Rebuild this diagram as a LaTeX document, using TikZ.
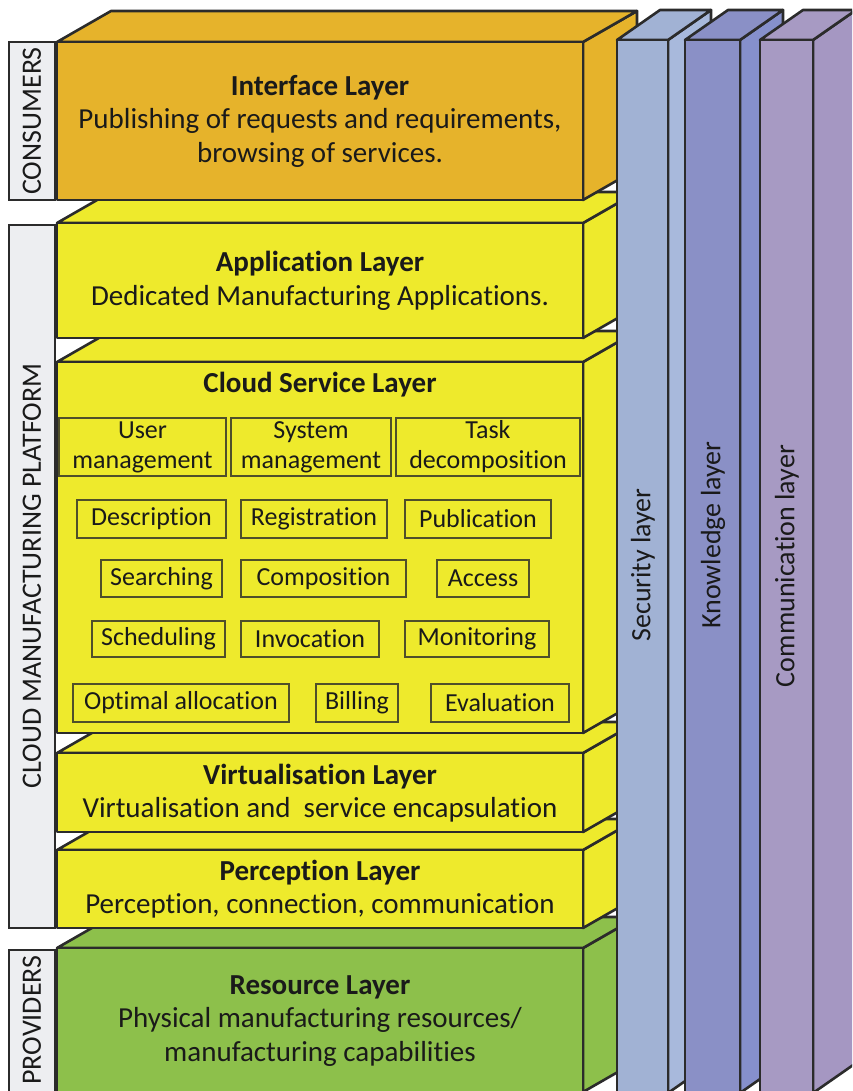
\documentclass[tikz,border=0pt]{standalone}
\usepackage{fontspec}
\setmainfont{Carlito}[Ligatures=NoCommon]
\usetikzlibrary{calc}

\definecolor{edge}{HTML}{2B2B2B}
\definecolor{ifacefill}{HTML}{E6B32B}
\definecolor{yellowfill}{HTML}{EEEA2C}
\definecolor{greenfill}{HTML}{8DC04B}
\definecolor{secfront}{HTML}{A1B2D4}
\definecolor{secside}{HTML}{A8B9DC}
\definecolor{knowfront}{HTML}{8A90C6}
\definecolor{knowside}{HTML}{8690CC}
\definecolor{commfront}{HTML}{A79AC3}
\definecolor{commside}{HTML}{A597C2}
\definecolor{labelfill}{HTML}{EDEEF1}
\definecolor{inkc}{HTML}{1A1A1A}
\definecolor{subedge}{HTML}{4F4F2A}

\tikzset{
  face/.style={draw=edge, line width=2.6pt, line join=round},
  layertext/.style={align=center, font=\fontsize{29}{33.5}\selectfont, text=inkc, inner sep=0pt},
  subbox/.style={draw=subedge, line width=1.7pt, inner sep=0pt, align=center,
                 font=\fontsize{26}{30}\selectfont, text=inkc},
  labelbox/.style={draw=edge, line width=2.4pt, fill=labelfill},
  labeltext/.style={rotate=90, font=\fontsize{28}{30}\selectfont, text=inkc, inner sep=0pt},
  coltext/.style={rotate=90, font=\fontsize{28}{30}\selectfont, text=inkc, inner sep=0pt},
}

% #1 left, #2 right, #3 top, #4 bottom, #5 depth dx, #6 depth rise, #7 front colour, #8 side colour
\newcommand{\drawprism}[8]{%
  \filldraw[face, fill=#8] (#2,#3) -- (#2+#5,#3-#6) -- (#2+#5,#4-#6) -- (#2,#4) -- cycle;
  \filldraw[face, fill=#7] (#1,#3) -- (#1+#5,#3-#6) -- (#2+#5,#3-#6) -- (#2,#3) -- cycle;
  \filldraw[face, fill=#7] (#1,#3) rectangle (#2,#4);
}

% service box: #1 name, #2 left, #3 right, #4 top, #5 bottom, #6 text
\newcommand{\svc}[6]{%
  \node[subbox, minimum width={#3-#2}, minimum height={#5-#4}]
    (#1) at ({(#2+#3)/2},{(#4+#5)/2}) {#6};
}

\begin{document}
\begin{tikzpicture}[x=1pt, y=-1pt]
\useasboundingbox (0,0) rectangle (852,1091);
\clip (0,0) rectangle (852,1091);

% stacked layers, lowest first
\drawprism{57}{583}{948}{1092}{54}{31}{greenfill}{greenfill}
\drawprism{57}{583}{850}{928}{54}{31}{yellowfill}{yellowfill}
\drawprism{57}{583}{753}{832}{54}{31}{yellowfill}{yellowfill}
\drawprism{57}{583}{362}{733}{54}{31}{yellowfill}{yellowfill}
\drawprism{57}{583}{223}{338}{54}{31}{yellowfill}{yellowfill}
\drawprism{57}{583}{42}{200}{54}{31}{ifacefill}{ifacefill}

% role labels on the left
\draw[labelbox] (9,42) rectangle (55,200);
\draw[labelbox] (9,225) rectangle (55,928);
\draw[labelbox] (9,950) rectangle (55,1110);
\node[labeltext] (consumers) at (32,121) {CONSUMERS};
\node[labeltext] (platform) at (32,576) {CLOUD MANUFACTURING PLATFORM};
\node[labeltext] (providers) at (32,1020) {PROVIDERS};

% cross-cutting columns
\drawprism{617}{668}{40}{1093}{43}{30}{secfront}{secside}
\drawprism{685}{740}{40}{1093}{43}{30}{knowfront}{knowside}
\drawprism{760}{813}{40}{1093}{43}{30}{commfront}{commside}
\node[coltext] (security) at (643,565) {Security layer};
\node[coltext] (knowledge) at (713,535) {Knowledge layer};
\node[coltext] (communication) at (787,566) {Communication layer};

% layer captions
\node[layertext] (interface) at (320,121)
  {\textbf{Interface Layer}\\Publishing of requests and requirements,\\browsing of services.};
\node[layertext] (application) at (320,281)
  {\textbf{Application Layer}\\Dedicated Manufacturing Applications.};
\node[layertext] (cloud) at (320,385) {\textbf{Cloud Service Layer}};
\node[layertext] (virtual) at (320,793)
  {\textbf{Virtualisation Layer}\\Virtualisation and\ \ service encapsulation};
\node[layertext] (perception) at (320,889)
  {\textbf{Perception Layer}\\Perception, connection, communication};
\node[layertext] (resource) at (320,1021)
  {\textbf{Resource Layer}\\Physical manufacturing resources/\\manufacturing capabilities};

% cloud services
\svc{usermgmt}{59}{226}{418}{476}{User\\management}
\svc{sysmgmt}{231}{391}{418}{476}{System\\management}
\svc{taskdec}{396}{580}{418}{476}{Task\\decomposition}
\svc{descr}{77}{226}{500}{538}{Description}
\svc{regist}{241}{387}{500}{538}{Registration}
\svc{publ}{405}{551}{500}{538}{Publication}
\svc{search}{101}{222}{560}{597}{Searching}
\svc{compo}{241}{406}{560}{597}{Composition}
\svc{access}{437}{529}{560}{597}{Access}
\svc{sched}{92}{225}{621}{657}{Scheduling}
\svc{invoc}{241}{379}{621}{657}{Invocation}
\svc{monit}{405}{549}{621}{657}{Monitoring}
\svc{optalloc}{73}{289}{684}{722}{Optimal allocation}
\svc{billing}{316}{398}{684}{722}{Billing}
\svc{evalu}{431}{569}{684}{722}{Evaluation}
\end{tikzpicture}
\end{document}
